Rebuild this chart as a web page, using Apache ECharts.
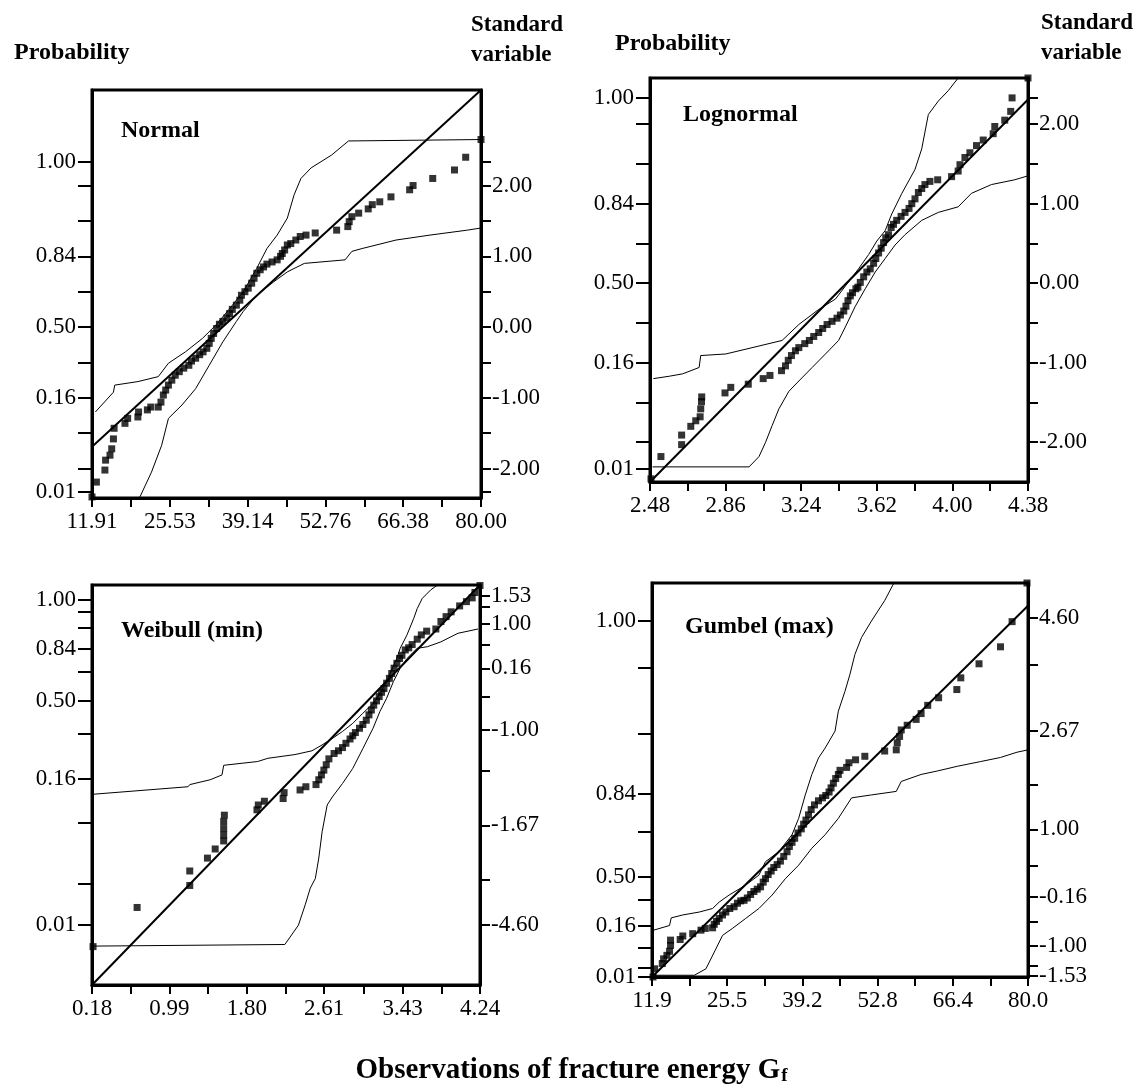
<!DOCTYPE html>
<html>
<head>
<meta charset="utf-8">
<script src="https://cdn.jsdelivr.net/npm/echarts@6/dist/echarts.min.js"></script>
<style>
  html, body { margin: 0; padding: 0; background: #fff; }
  #chart { width: 1143px; height: 1087px; }
</style>
</head>
<body>
<div id="chart"></div>
<script>
// ---- Normal ----
const normalX = [11.91, 12.68, 14.17, 14.29, 15.06, 15.36, 15.66, 15.78, 17.68, 18.15, 19.94, 20.06, 21.60, 22.20, 23.51, 23.98, 24.40, 24.81, 25.29, 25.88, 26.48, 27.19, 27.97, 28.86, 29.33, 30.05, 30.76, 31.35, 32.01, 32.43, 32.78, 33.20, 33.73, 34.21, 34.80, 35.52, 35.99, 36.47, 37.18, 37.78, 38.07, 38.67, 39.26, 39.86, 40.28, 40.75, 41.35, 41.94, 42.53, 43.43, 44.32, 44.91, 45.21, 45.63, 46.10, 46.70, 47.59, 48.36, 49.37, 50.98, 54.73, 56.69, 56.93, 57.40, 58.59, 60.26, 60.97, 62.28, 64.24, 67.51, 68.11, 71.55, 75.36, 77.32, 80.00]
const normalZ = [-2.40, -2.19, -2.02, -1.88, -1.81, -1.72, -1.58, -1.43, -1.36, -1.29, -1.27, -1.20, -1.17, -1.13, -1.13, -1.06, -0.96, -0.89, -0.82, -0.75, -0.68, -0.63, -0.58, -0.54, -0.48, -0.44, -0.39, -0.35, -0.30, -0.23, -0.16, -0.09, -0.02, 0.04, 0.08, 0.13, 0.19, 0.25, 0.31, 0.38, 0.45, 0.50, 0.55, 0.62, 0.69, 0.76, 0.81, 0.85, 0.89, 0.92, 0.95, 1.00, 1.04, 1.09, 1.16, 1.18, 1.23, 1.28, 1.30, 1.33, 1.37, 1.42, 1.49, 1.56, 1.61, 1.67, 1.73, 1.77, 1.84, 1.94, 2.00, 2.10, 2.22, 2.40, 2.65]
const normalFitX = [11.91, 80.00]
const normalFitZ = [-1.69, 3.35]
const normalUpX = [12.50, 15.66, 15.89, 19.94, 23.51, 25.29, 28.26, 31.24, 33.62, 36.00, 38.37, 40.75, 42.53, 44.32, 46.10, 47.29, 48.48, 50.27, 53.83, 56.81, 80.00]
const normalUpZ = [-1.20, -0.92, -0.82, -0.77, -0.70, -0.51, -0.35, -0.16, 0.03, 0.26, 0.50, 0.83, 1.11, 1.30, 1.54, 1.87, 2.10, 2.25, 2.43, 2.63, 2.65]
const normalLoX = [20.24, 22.32, 24.10, 25.29, 27.67, 30.05, 32.43, 34.80, 37.18, 38.37, 40.75, 43.72, 46.10, 49.08, 56.21, 57.40, 59.19, 65.13, 71.08, 77.62, 80.00]
const normalLoZ = [-2.41, -2.05, -1.67, -1.29, -1.10, -0.87, -0.54, -0.21, 0.08, 0.22, 0.45, 0.64, 0.78, 0.90, 0.95, 1.07, 1.11, 1.23, 1.30, 1.37, 1.40]
const normalXTicks = [11.91, 18.72, 25.53, 32.34, 39.14, 45.95, 52.76, 59.57, 66.38, 73.19, 80.00]
const normalXLabels = [11.91, 25.53, 39.14, 52.76, 66.38, 80.00]

// ---- Lognormal ----
const lognX = [2.485, 2.535, 2.639, 2.639, 2.685, 2.710, 2.732, 2.735, 2.739, 2.740, 2.857, 2.886, 2.974, 3.049, 3.083, 3.141, 3.161, 3.175, 3.191, 3.211, 3.228, 3.258, 3.281, 3.303, 3.328, 3.348, 3.370, 3.395, 3.420, 3.437, 3.454, 3.465, 3.475, 3.487, 3.498, 3.515, 3.525, 3.537, 3.554, 3.570, 3.587, 3.604, 3.615, 3.629, 3.642, 3.654, 3.665, 3.679, 3.692, 3.704, 3.720, 3.742, 3.762, 3.782, 3.796, 3.812, 3.829, 3.846, 3.862, 3.887, 3.926, 3.996, 4.029, 4.038, 4.063, 4.088, 4.121, 4.155, 4.205, 4.213, 4.263, 4.293, 4.300, 4.380]
const lognZ = [-2.46, -2.18, -2.03, -1.91, -1.80, -1.73, -1.68, -1.58, -1.49, -1.43, -1.38, -1.31, -1.27, -1.20, -1.16, -1.10, -1.04, -0.97, -0.91, -0.85, -0.81, -0.76, -0.72, -0.67, -0.62, -0.57, -0.52, -0.48, -0.44, -0.40, -0.35, -0.29, -0.22, -0.16, -0.12, -0.07, -0.05, 0.01, 0.08, 0.14, 0.18, 0.25, 0.31, 0.38, 0.44, 0.51, 0.57, 0.61, 0.70, 0.74, 0.79, 0.84, 0.89, 0.94, 1.00, 1.06, 1.14, 1.19, 1.24, 1.28, 1.30, 1.34, 1.41, 1.49, 1.58, 1.64, 1.73, 1.80, 1.88, 1.97, 2.05, 2.16, 2.33, 2.58]
const lognFitX = [2.48, 4.38]
const lognFitZ = [-2.50, 2.31]
const lognUpX = [2.497, 2.577, 2.644, 2.727, 2.735, 2.861, 2.978, 3.144, 3.228, 3.328, 3.412, 3.470, 3.528, 3.579, 3.620, 3.662, 3.695, 3.746, 3.812, 3.846, 3.862, 3.879, 3.929, 3.979, 4.029]
const lognUpZ = [-1.20, -1.17, -1.14, -1.06, -0.91, -0.89, -0.82, -0.72, -0.52, -0.33, -0.20, -0.01, 0.18, 0.36, 0.53, 0.66, 0.87, 1.13, 1.43, 1.69, 1.90, 2.12, 2.29, 2.42, 2.58]
const lognLoX = [2.493, 2.978, 3.028, 3.061, 3.094, 3.128, 3.178, 3.228, 3.295, 3.362, 3.428, 3.462, 3.512, 3.562, 3.612, 3.662, 3.712, 3.762, 3.846, 3.929, 4.029, 4.096, 4.196, 4.313, 4.380]
const lognLoZ = [-2.31, -2.31, -2.18, -2.00, -1.79, -1.58, -1.36, -1.23, -1.06, -0.89, -0.72, -0.55, -0.29, -0.07, 0.14, 0.31, 0.48, 0.61, 0.79, 0.89, 0.96, 1.13, 1.24, 1.30, 1.35]
const lognXTicks = [2.48, 2.67, 2.86, 3.05, 3.24, 3.43, 3.62, 3.81, 4.00, 4.19, 4.38]
const lognXLabels = [2.48, 2.86, 3.24, 3.62, 4.00, 4.38]

// ---- Weibull (min) ----
const weibX = [0.191, 0.652, 1.203, 1.203, 1.388, 1.469, 1.558, 1.558, 1.558, 1.558, 1.565, 1.906, 1.920, 1.984, 2.180, 2.190, 2.357, 2.418, 2.524, 2.553, 2.581, 2.606, 2.631, 2.659, 2.713, 2.759, 2.801, 2.837, 2.880, 2.908, 2.936, 2.979, 3.014, 3.050, 3.078, 3.103, 3.128, 3.157, 3.185, 3.210, 3.235, 3.263, 3.292, 3.316, 3.341, 3.370, 3.398, 3.423, 3.458, 3.494, 3.530, 3.583, 3.626, 3.682, 3.778, 3.831, 3.885, 3.938, 4.027, 4.098, 4.158, 4.187, 4.240]
const weibW = [-5.01, -4.28, -3.87, -3.60, -3.36, -3.19, -3.04, -2.93, -2.81, -2.68, -2.56, -2.46, -2.37, -2.30, -2.25, -2.14, -2.09, -2.03, -1.99, -1.90, -1.81, -1.72, -1.62, -1.51, -1.41, -1.36, -1.30, -1.22, -1.14, -1.08, -1.02, -0.94, -0.87, -0.79, -0.69, -0.60, -0.51, -0.43, -0.35, -0.27, -0.20, -0.10, -0.01, 0.08, 0.18, 0.27, 0.36, 0.42, 0.52, 0.56, 0.62, 0.72, 0.80, 0.87, 0.91, 1.05, 1.14, 1.23, 1.34, 1.42, 1.49, 1.59, 1.72]
const weibFitX = [0.18, 4.24]
const weibFitW = [-5.725, 1.73]
const weibUpX = [0.191, 1.185, 1.203, 1.416, 1.540, 1.558, 1.913, 2.020, 2.304, 2.482, 2.588, 2.695, 2.801, 2.908, 3.014, 3.121, 3.192, 3.263, 3.316, 3.370, 3.405, 3.476, 3.547, 3.583, 3.636, 3.725, 3.796]
const weibUpW = [-2.17, -2.03, -1.99, -1.90, -1.81, -1.63, -1.56, -1.50, -1.43, -1.36, -1.25, -1.13, -1.00, -0.85, -0.66, -0.48, -0.29, -0.07, 0.15, 0.36, 0.55, 0.80, 1.11, 1.29, 1.48, 1.64, 1.73]
const weibLoX = [0.191, 2.198, 2.340, 2.411, 2.464, 2.517, 2.553, 2.588, 2.641, 2.695, 2.801, 2.908, 3.014, 3.121, 3.192, 3.263, 3.334, 3.405, 3.476, 3.583, 3.689, 3.831, 4.009, 4.220]
const weibLoW = [-5.00, -4.97, -4.61, -4.23, -3.92, -3.74, -3.36, -2.87, -2.37, -2.22, -1.97, -1.69, -1.32, -0.94, -0.63, -0.38, -0.07, 0.18, 0.36, 0.55, 0.58, 0.67, 0.83, 0.91]
const weibXTicks = [0.18, 0.585, 0.99, 1.395, 1.80, 2.205, 2.61, 3.02, 3.43, 3.835, 4.24]
const weibXLabels = [0.18, 0.99, 1.80, 2.61, 3.43, 4.24]

// ---- Gumbel (max) ----
const gumbX = [12.08, 12.38, 13.76, 14.00, 14.60, 15.08, 15.26, 15.26, 17.00, 17.48, 19.27, 20.77, 21.55, 22.87, 23.17, 23.59, 24.07, 24.67, 25.27, 25.99, 26.77, 27.37, 27.97, 28.57, 29.16, 29.76, 30.36, 30.96, 31.56, 32.04, 32.46, 32.94, 33.48, 33.96, 34.56, 35.16, 35.76, 36.36, 36.78, 37.26, 37.74, 38.34, 38.94, 39.36, 39.78, 40.25, 40.73, 41.33, 42.05, 42.77, 43.37, 43.97, 44.33, 44.75, 45.17, 45.65, 45.95, 47.15, 47.57, 48.77, 50.45, 54.04, 56.14, 56.32, 56.74, 57.04, 58.12, 59.74, 60.64, 61.84, 63.81, 67.11, 67.83, 71.13, 75.02, 77.12, 79.82]
const gumbG = [-1.53, -1.39, -1.30, -1.22, -1.16, -1.09, -0.99, -0.90, -0.89, -0.83, -0.79, -0.73, -0.70, -0.69, -0.63, -0.58, -0.53, -0.47, -0.42, -0.36, -0.33, -0.27, -0.23, -0.22, -0.18, -0.12, -0.07, -0.03, 0.01, 0.09, 0.15, 0.22, 0.28, 0.34, 0.39, 0.45, 0.53, 0.61, 0.70, 0.77, 0.84, 0.93, 1.00, 1.08, 1.15, 1.24, 1.33, 1.41, 1.48, 1.53, 1.57, 1.63, 1.70, 1.78, 1.86, 1.93, 2.00, 2.05, 2.13, 2.18, 2.24, 2.33, 2.35, 2.47, 2.58, 2.69, 2.77, 2.87, 2.97, 3.11, 3.24, 3.38, 3.58, 3.82, 4.11, 4.54, 5.20]
const gumbFitX = [11.9, 80.0]
const gumbFitG = [-1.53, 4.81]
const gumbUpX = [12.20, 15.08, 15.38, 17.48, 20.47, 22.87, 24.07, 25.87, 28.86, 31.26, 32.46, 34.86, 37.26, 38.46, 39.66, 40.85, 42.05, 43.25, 45.05, 45.65, 46.85, 47.75, 48.65, 49.85, 51.64, 54.04, 55.72]
const gumbUpG = [-0.73, -0.65, -0.52, -0.47, -0.42, -0.36, -0.25, -0.13, 0.04, 0.21, 0.44, 0.61, 0.90, 1.18, 1.58, 1.93, 2.21, 2.38, 2.67, 3.01, 3.35, 3.64, 3.98, 4.27, 4.55, 4.90, 5.20]
const gumbLoX = [12.20, 19.57, 21.67, 23.47, 24.67, 26.47, 28.86, 31.26, 33.66, 36.06, 38.46, 40.85, 43.25, 45.65, 48.05, 51.64, 56.14, 57.04, 60.64, 63.63, 67.23, 71.43, 75.02, 78.02, 80.00]
const gumbLoG = [-1.50, -1.50, -1.39, -1.05, -0.82, -0.70, -0.53, -0.36, -0.13, 0.15, 0.38, 0.67, 0.90, 1.18, 1.53, 1.58, 1.64, 1.81, 1.93, 1.99, 2.07, 2.15, 2.22, 2.31, 2.35]
const gumbXTicks = [11.9, 18.71, 25.52, 32.33, 39.14, 45.95, 52.76, 59.57, 66.38, 73.19, 80.0]
const gumbXLabels = [11.9, 25.52, 39.14, 52.76, 66.38, 80.0]
const gumbXTexts = ['11.9', '25.5', '39.2', '52.8', '66.4', '80.0']

// ---- probability / standard variable scales ----
const stdTicks = [-2.33, -2, -1.5, -1, -0.5, 0, 0.5, 1, 1.5, 2, 2.33]
const stdLabels = [-2, -1, 0, 1, 2]
const stdTexts = ['-2.00', '-1.00', '0.00', '1.00', '2.00']
const probLabels = [-2.33, -1, 0, 1, 2.33]
const probTexts = ['0.01', '0.16', '0.50', '0.84', '1.00']

const weibProbTicks = [-4.607, -3.83, -2.71, -1.88, -1.05, -0.43, 0.11, 0.536, 0.93, 1.24, 1.45]
const weibProbLabels = [-4.607, -1.88, -0.43, 0.536, 1.45]
const weibStdTicks = [-4.607, -3.77, -2.75, -1.74, -0.97, -0.35, 0.176, 0.61, 1.0, 1.325, 1.53]
const weibStdLabels = [-4.607, -2.75, -0.973, 0.176, 1.0, 1.53]
const weibStdTexts = ['-4.60', '-1.67', '-1.00', '0.16', '1.00', '1.53']

const gumbProbTicks = [-1.53, -1.377, -1.034, -0.657, -0.217, 0.18, 0.954, 1.6, 2.623, 3.754, 4.554]
const gumbProbLabels = [-1.53, -0.657, 0.18, 1.6, 4.554]
const gumbStdTicks = [-1.51, -1.343, -0.989, -0.589, -0.16, 0.371, 0.983, 1.754, 2.67, 3.80, 4.60]
const gumbStdLabels = [-1.51, -1.00, -0.16, 1.00, 2.67, 4.60]
const gumbStdTexts = ['-1.53', '-1.00', '-0.16', '1.00', '2.67', '4.60']

const serif = "'Liberation Serif', 'Times New Roman', serif"
const pairs = (xs, ys) => xs.map((x, i) => [x, ys[i]])
const lookup = (vals, texts) => (value) => {
  const i = vals.findIndex((v) => Math.abs(v - value) < 1e-6)
  return i < 0 ? '' : texts[i]
}
const fixed = (n) => (value) => Number(value).toFixed(n)

const panels = [
  {
    name: 'Normal', grid: { left: 92, top: 90, width: 389, height: 408 }, titleAt: [116, 114],
    x: [11.91, 80.0], y: [-2.415, 3.35], xTicks: normalXTicks, xLabels: normalXLabels, xFmt: fixed(2),
    lTicks: stdTicks, lLabels: probLabels, lFmt: lookup(probLabels, probTexts),
    rTicks: stdTicks, rLabels: stdLabels, rFmt: lookup(stdLabels, stdTexts),
    pts: pairs(normalX, normalZ), fit: pairs(normalFitX, normalFitZ),
    up: pairs(normalUpX, normalUpZ), lo: pairs(normalLoX, normalLoZ)
  },
  {
    name: 'Lognormal', grid: { left: 650, top: 78, width: 378, height: 404 }, titleAt: [678, 98],
    x: [2.48, 4.38], y: [-2.50, 2.58], xTicks: lognXTicks, xLabels: lognXLabels, xFmt: fixed(2),
    lTicks: stdTicks, lLabels: probLabels, lFmt: lookup(probLabels, probTexts),
    rTicks: stdTicks, rLabels: stdLabels, rFmt: lookup(stdLabels, stdTexts),
    pts: pairs(lognX, lognZ), fit: pairs(lognFitX, lognFitZ),
    up: pairs(lognUpX, lognUpZ), lo: pairs(lognLoX, lognLoZ)
  },
  {
    name: 'Weibull (min)', grid: { left: 92, top: 585, width: 388, height: 400 }, titleAt: [116, 614],
    x: [0.18, 4.24], y: [-5.725, 1.73], xTicks: weibXTicks, xLabels: weibXLabels, xFmt: fixed(2),
    lTicks: weibProbTicks, lLabels: weibProbLabels, lFmt: lookup(weibProbLabels, probTexts),
    rTicks: weibStdTicks, rLabels: weibStdLabels, rFmt: lookup(weibStdLabels, weibStdTexts),
    pts: pairs(weibX, weibW), fit: pairs(weibFitX, weibFitW),
    up: pairs(weibUpX, weibUpW), lo: pairs(weibLoX, weibLoW)
  },
  {
    name: 'Gumbel (max)', grid: { left: 652, top: 583, width: 376, height: 394 }, titleAt: [680, 610],
    x: [11.9, 80.0], y: [-1.53, 5.20], xTicks: gumbXTicks, xLabels: gumbXLabels, xFmt: lookup(gumbXLabels, gumbXTexts),
    lTicks: gumbProbTicks, lLabels: gumbProbLabels, lFmt: lookup(gumbProbLabels, probTexts),
    rTicks: gumbStdTicks, rLabels: gumbStdLabels, rFmt: lookup(gumbStdLabels, gumbStdTexts),
    pts: pairs(gumbX, gumbG), fit: pairs(gumbFitX, gumbFitG),
    up: pairs(gumbUpX, gumbUpG), lo: pairs(gumbLoX, gumbLoG)
  }
]

const black = '#000'
const tickLabel = { color: black, fontFamily: serif, fontSize: 23 }

const grid = []
const xAxis = []
const yAxis = []
const series = []
const title = []

panels.forEach((p, i) => {
  grid.push({ ...p.grid, show: true, borderColor: black, borderWidth: 3, containLabel: false })
  xAxis.push({
    type: 'value', gridIndex: i, min: p.x[0], max: p.x[1],
    axisLine: { show: true, onZero: false, lineStyle: { color: black, width: 3 } },
    axisTick: { show: true, customValues: p.xTicks, length: 9, lineStyle: { color: black, width: 2 } },
    axisLabel: { ...tickLabel, customValues: p.xLabels, formatter: p.xFmt, margin: 12 },
    splitLine: { show: false }
  })
  yAxis.push({
    type: 'value', gridIndex: i, position: 'left', min: p.y[0], max: p.y[1],
    axisLine: { show: true, onZero: false, lineStyle: { color: black, width: 3 } },
    axisTick: { show: true, customValues: p.lTicks, length: 14, lineStyle: { color: black, width: 2 } },
    axisLabel: { ...tickLabel, customValues: p.lLabels, formatter: p.lFmt, margin: 16 },
    splitLine: { show: false }
  })
  yAxis.push({
    type: 'value', gridIndex: i, position: 'right', min: p.y[0], max: p.y[1],
    axisLine: { show: true, onZero: false, lineStyle: { color: black, width: 3 } },
    axisTick: { show: true, customValues: p.rTicks, length: 10, lineStyle: { color: black, width: 2 } },
    axisLabel: { ...tickLabel, customValues: p.rLabels, formatter: p.rFmt, margin: 11 },
    splitLine: { show: false }
  })
  const axes = { xAxisIndex: i, yAxisIndex: i * 2 + 1 }
  series.push(
    { type: 'line', ...axes, data: p.up, symbol: 'none', lineStyle: { color: black, width: 1 } },
    { type: 'line', ...axes, data: p.lo, symbol: 'none', lineStyle: { color: black, width: 1 } },
    { type: 'line', ...axes, data: p.fit, symbol: 'none', lineStyle: { color: black, width: 2 } },
    { type: 'scatter', ...axes, data: p.pts, symbol: 'rect', symbolSize: 7, itemStyle: { color: black }, clip: false }
  )
  title.push({
    text: p.name, left: p.titleAt[0], top: p.titleAt[1],
    textStyle: { fontFamily: serif, fontSize: 24, fontWeight: 'bold', color: black }
  })
})

const heading = { fontFamily: serif, fontSize: 23, fontWeight: 'bold', color: black, lineHeight: 30 }
title.push(
  { text: 'Probability', left: 9, top: 33, textStyle: { ...heading, fontSize: 24 } },
  { text: 'Standard\nvariable', left: 466, top: 5, textStyle: heading },
  { text: 'Probability', left: 610, top: 24, textStyle: { ...heading, fontSize: 24 } },
  { text: 'Standard\nvariable', left: 1036, top: 3, textStyle: heading },
  {
    text: '{a|Observations of fracture energy G}{b|f}', left: 'center', top: 1050,
    textStyle: {
      rich: {
        a: { fontFamily: serif, fontSize: 29, fontWeight: 'bold', color: black },
        b: { fontFamily: serif, fontSize: 19, fontWeight: 'bold', color: black, padding: [12, 0, 0, 1] }
      }
    }
  }
)

const chart = echarts.init(document.getElementById('chart'))
chart.setOption({
  animation: false,
  backgroundColor: '#fff',
  title,
  grid,
  xAxis,
  yAxis,
  series
})
</script>
</body>
</html>
